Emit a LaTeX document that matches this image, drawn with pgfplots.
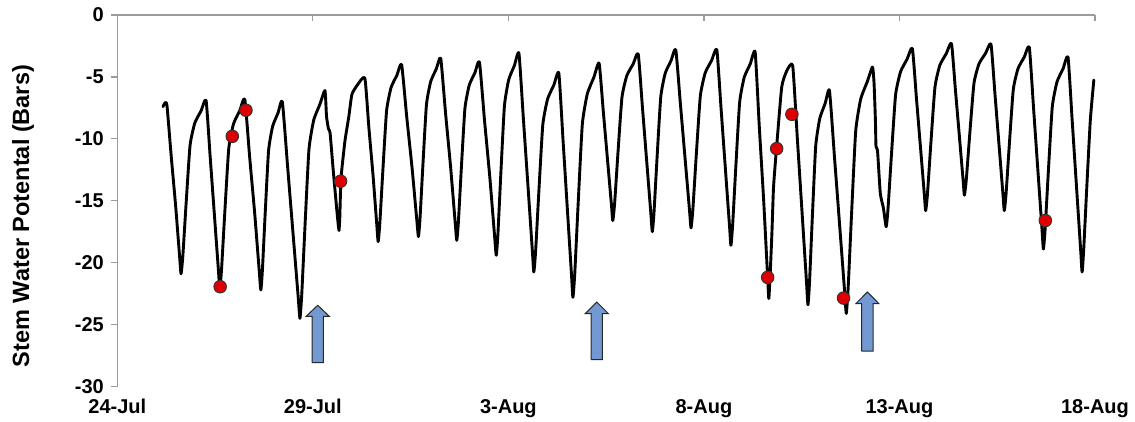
\documentclass[border=0pt]{standalone}
\usepackage{pgfplots}
\pgfplotsset{compat=1.18}
\usepackage{fontspec}
\setmainfont{Liberation Sans}
\definecolor{arrowblue}{RGB}{114,153,209}
\definecolor{dotred}{RGB}{222,0,0}
\definecolor{axgray}{RGB}{155,155,155}
\begin{document}
\begin{tikzpicture}
\begin{axis}[
 scale only axis, width=977.7pt, height=371.5pt,
 xmin=0, xmax=25, ymin=-30, ymax=0,
 axis y line*=left, axis x line*=bottom,
 x axis line style={draw=none},
 y axis line style={draw=axgray, line width=1.3pt},
 xtick={0,5,10,15,20,25}, xticklabels={24-Jul,29-Jul,3-Aug,8-Aug,13-Aug,18-Aug},
 xtick style={draw=none},
 ytick={-30,-25,-20,-15,-10,-5,0}, yticklabels={-30,-25,-20,-15,-10,-5,0},
 ytick style={draw=axgray, line width=1.3pt},
 tick align=outside, major tick length=6pt,
 ticklabel style={font=\fontsize{20}{24}\selectfont\bfseries},
 xticklabel style={yshift=-3pt},
 yticklabel style={xshift=-4pt},
 ylabel={Stem Water Potental (Bars)},
 ylabel style={font=\fontsize{23.5}{28}\selectfont\bfseries, at={(axis description cs:-0.0965,0.459)}, anchor=center},
 clip=false,
]
\coordinate (sw) at (rel axis cs:0,0);
\coordinate (ne) at (rel axis cs:1,1);
% top axis line with inward ticks
\addplot[axgray, line width=1.3pt] coordinates {(0,0) (25,0)};
\addplot[axgray, line width=1.3pt] coordinates {(5,0) (5,-0.49)};
\addplot[axgray, line width=1.3pt] coordinates {(10,0) (10,-0.49)};
\addplot[axgray, line width=1.3pt] coordinates {(15,0) (15,-0.49)};
\addplot[axgray, line width=1.3pt] coordinates {(20,0) (20,-0.49)};
\addplot[axgray, line width=1.3pt] coordinates {(25,0) (25,-0.49)};
% stem water potential
\addplot[black, line width=2.9pt, line join=round, line cap=round, smooth, tension=0.3] coordinates {
(1.17,-7.4) (1.22,-7.1) (1.27,-7.3)
(1.378,-11.38) (1.493,-15.46) (1.594,-19.54) (1.63,-20.9)
(1.675,-19.5) (1.758,-15.3) (1.86,-10.54) (1.982,-8.72) (2.142,-7.74) (2.27,-6.9)
(2.375,-11.46) (2.487,-16.32) (2.585,-20.58) (2.62,-22.1)
(2.665,-20.57) (2.748,-15.98) (2.85,-10.78) (2.972,-8.79) (3.132,-7.72) (3.26,-6.8)
(3.383,-11.42) (3.514,-16.04) (3.629,-20.66) (3.67,-22.2)
(3.709,-20.68) (3.78,-16.12) (3.868,-10.95) (3.973,-8.98) (4.11,-7.91) (4.22,-7.0)
(4.355,-12.25) (4.499,-17.85) (4.625,-22.75) (4.67,-24.5)
(4.715,-22.66) (4.798,-17.14) (4.90,-10.88) (5.022,-8.49) (5.182,-7.2) (5.31,-6.1)
(5.35,-8.2) (5.40,-9.2) (5.44,-9.5) (5.52,-12.5) (5.60,-15.3) (5.645,-16.8) (5.67,-17.4)
(5.69,-16.3) (5.72,-13.2) (5.82,-10.2) (5.92,-8.2) (6.0,-6.4) (6.15,-5.6) (6.33,-5.1)
(6.432,-9.06) (6.541,-13.02) (6.636,-16.98) (6.67,-18.3)
(6.712,-16.87) (6.79,-12.58) (6.886,-7.72) (7.0,-5.86) (7.15,-4.86) (7.27,-4.0)
(7.399,-8.17) (7.537,-12.34) (7.657,-16.51) (7.70,-17.9)
(7.74,-16.46) (7.814,-12.14) (7.905,-7.24) (8.014,-5.37) (8.156,-4.36) (8.27,-3.5)
(8.393,-7.91) (8.524,-12.32) (8.639,-16.73) (8.68,-18.2)
(8.721,-16.76) (8.796,-12.44) (8.889,-7.54) (8.999,-5.67) (9.144,-4.66) (9.26,-3.8)
(9.389,-8.48) (9.527,-13.16) (9.647,-17.84) (9.69,-19.4)
(9.731,-17.77) (9.806,-12.88) (9.899,-7.34) (10.009,-5.22) (10.154,-4.08) (10.27,-3.1)
(10.384,-8.4) (10.506,-14.04) (10.612,-18.99) (10.65,-20.75)
(10.695,-19.15) (10.778,-14.33) (10.88,-8.87) (11.002,-6.79) (11.162,-5.66) (11.29,-4.7)
(11.398,-10.13) (11.513,-15.92) (11.614,-20.99) (11.65,-22.8)
(11.697,-20.91) (11.784,-15.24) (11.891,-8.81) (12.019,-6.36) (12.186,-5.03) (12.32,-3.9)
(12.425,-7.71) (12.537,-11.77) (12.635,-15.33) (12.67,-16.6)
(12.716,-15.25) (12.80,-11.22) (12.904,-6.65) (13.028,-4.9) (13.19,-3.96) (13.32,-3.15)
(13.428,-7.46) (13.543,-12.05) (13.644,-16.07) (13.68,-17.5)
(13.722,-16.03) (13.80,-11.62) (13.896,-6.62) (14.01,-4.71) (14.16,-3.68) (14.28,-2.8)
(14.397,-7.12) (14.522,-11.73) (14.631,-15.76) (14.67,-17.2)
(14.716,-15.76) (14.802,-11.44) (14.908,-6.54) (15.033,-4.67) (15.198,-3.66) (15.33,-2.8)
(15.438,-7.54) (15.553,-12.6) (15.654,-17.02) (15.69,-18.6)
(15.733,-17.04) (15.814,-12.36) (15.913,-7.06) (16.031,-5.03) (16.186,-3.94) (16.31,-3.0)
(16.415,-8.97) (16.527,-14.94) (16.625,-20.91) (16.66,-22.9)
(16.70,-20.5) (16.74,-17.5) (16.78,-13.9) (16.86,-10.6) (16.99,-5.8) (17.12,-4.5) (17.27,-4.1)
(17.387,-9.89) (17.512,-16.07) (17.621,-21.47) (17.66,-23.4)
(17.699,-21.67) (17.77,-16.48) (17.858,-10.6) (17.963,-8.35) (18.10,-7.14) (18.21,-6.1)
(18.339,-11.5) (18.477,-17.26) (18.597,-22.3) (18.64,-24.1)
(18.687,-22.11) (18.774,-16.14) (18.881,-9.37) (19.009,-6.79) (19.176,-5.39) (19.31,-4.2)
(19.35,-5.5) (19.385,-8.5) (19.40,-10.6) (19.44,-11.0) (19.51,-14.4) (19.59,-15.6) (19.66,-17.1)
(19.707,-15.66) (19.794,-11.34) (19.901,-6.44) (20.029,-4.57) (20.196,-3.56) (20.33,-2.7)
(20.432,-6.63) (20.541,-10.82) (20.636,-14.49) (20.67,-15.8)
(20.716,-14.45) (20.802,-10.4) (20.908,-5.81) (21.033,-4.05) (21.198,-3.11) (21.33,-2.3)
(21.429,-5.98) (21.535,-9.9) (21.627,-13.33) (21.66,-14.55)
(21.708,-13.33) (21.796,-9.67) (21.905,-5.52) (22.034,-3.94) (22.204,-3.08) (22.34,-2.35)
(22.442,-6.39) (22.551,-10.69) (22.646,-14.46) (22.68,-15.8)
(22.725,-14.48) (22.808,-10.52) (22.91,-6.03) (23.032,-4.32) (23.192,-3.39) (23.32,-2.6)
(23.428,-7.49) (23.543,-12.71) (23.644,-17.27) (23.68,-18.9)
(23.724,-17.35) (23.806,-12.7) (23.907,-7.43) (24.027,-5.41) (24.184,-4.33) (24.31,-3.4)
(24.418,-8.6) (24.533,-14.16) (24.634,-19.02) (24.67,-20.75)
(24.71,-19.0) (24.79,-13.9) (24.88,-8.5) (24.97,-5.25)
};
% measured points
\addplot[only marks, mark=*, mark size=6.3pt, mark options={fill=dotred, draw=black!80, line width=0.9pt}] coordinates {
(2.63,-21.94) (2.94,-9.8) (3.29,-7.69) (5.71,-13.42) (16.63,-21.19) (16.86,-10.79) (17.25,-8.02) (18.57,-22.86) (23.73,-16.6)
};
% arrows
\addplot[fill=arrowblue, draw=black!85, line width=1pt] coordinates {(4.98,-28.08) (5.27,-28.08) (5.27,-24.33) (5.42,-24.33) (5.125,-23.44) (4.83,-24.33) (4.98,-24.33) (4.98,-28.08)};
\addplot[fill=arrowblue, draw=black!85, line width=1pt] coordinates {(12.115,-27.83) (12.405,-27.83) (12.405,-24.11) (12.555,-24.11) (12.26,-23.18) (11.965,-24.11) (12.115,-24.11) (12.115,-27.83)};
\addplot[fill=arrowblue, draw=black!85, line width=1pt] coordinates {(19.035,-27.14) (19.325,-27.14) (19.325,-23.31) (19.475,-23.31) (19.18,-22.37) (18.885,-23.31) (19.035,-23.31) (19.035,-27.14)};
\end{axis}
\pgfresetboundingbox
\path ([shift={(-117.3pt,-34.5pt)}]sw) rectangle ([shift={(40pt,15pt)}]ne);
\end{tikzpicture}
\end{document}
